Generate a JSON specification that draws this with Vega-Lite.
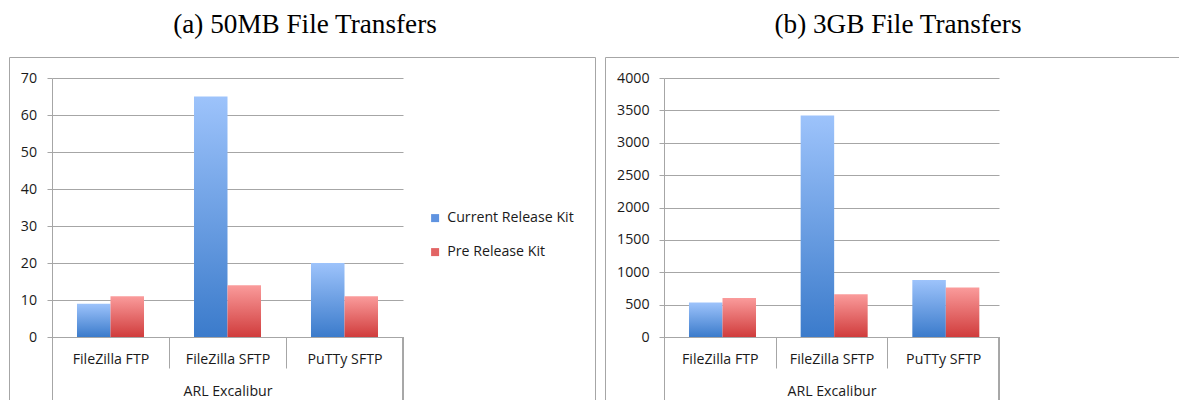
{
  "$schema": "https://vega.github.io/schema/vega-lite/v6.json",
  "padding": {"left": 8, "top": 10, "right": 0, "bottom": 0},
  "spacing": 8,
  "config": {
    "view": {"stroke": "#a6a6a6", "strokeWidth": 1},
    "axis": {"labelFont": "Open Sans", "titleFont": "Open Sans", "labelColor": "#1a1a1a", "titleColor": "#1a1a1a"},
    "legend": {"labelFont": "Open Sans", "labelColor": "#1a1a1a"}
  },
  "data": {"values": [
    {"panel": "a", "tool": "FileZilla FTP", "series": "Current Release Kit", "value": 9},
    {"panel": "a", "tool": "FileZilla FTP", "series": "Pre Release Kit", "value": 11},
    {"panel": "a", "tool": "FileZilla SFTP", "series": "Current Release Kit", "value": 65},
    {"panel": "a", "tool": "FileZilla SFTP", "series": "Pre Release Kit", "value": 14},
    {"panel": "a", "tool": "PuTTy SFTP", "series": "Current Release Kit", "value": 20},
    {"panel": "a", "tool": "PuTTy SFTP", "series": "Pre Release Kit", "value": 11},
    {"panel": "b", "tool": "FileZilla FTP", "series": "Current Release Kit", "value": 531},
    {"panel": "b", "tool": "FileZilla FTP", "series": "Pre Release Kit", "value": 602},
    {"panel": "b", "tool": "FileZilla SFTP", "series": "Current Release Kit", "value": 3419},
    {"panel": "b", "tool": "FileZilla SFTP", "series": "Pre Release Kit", "value": 659},
    {"panel": "b", "tool": "PuTTy SFTP", "series": "Current Release Kit", "value": 880},
    {"panel": "b", "tool": "PuTTy SFTP", "series": "Pre Release Kit", "value": 763}
  ]},
  "hconcat": [
    {
      "title": {"text": "(a) 50MB File Transfers", "font": "Liberation Serif", "fontSize": 27.2, "fontWeight": "normal", "color": "#000000", "anchor": "middle", "frame": "group", "baseline": "alphabetic", "offset": -3, "dx": 3},
      "width": 586,
      "height": 344,
      "transform": [{"filter": "datum.panel === 'a'"}],
      "layer": [
        {
          "mark": {"type": "bar"},
          "encoding": {
            "x": {"field": "tool", "type": "nominal", "sort": ["FileZilla FTP", "FileZilla SFTP", "PuTTy SFTP"],
              "scale": {"range": [43, 394], "paddingInner": 0, "paddingOuter": 0},
              "axis": {"title": "ARL Excalibur", "titleY": 54.5, "titleBaseline": "middle", "titleFontSize": 14.2, "titleFontWeight": "normal",
                "offset": -64, "tickBand": "extent", "tickSize": 31,
                "tickColor": "#a6a6a6", "domainColor": "#a6a6a6", "labelAngle": 0, "labelBaseline": "middle", "labelPadding": -8.5, "labelFontSize": 14.2}},
            "xOffset": {"field": "series", "type": "nominal", "sort": ["Current Release Kit", "Pre Release Kit"], "scale": {"paddingInner": 0, "paddingOuter": 0.746}},
            "y": {"field": "value", "type": "quantitative",
              "scale": {"domain": [-17.297, 70], "range": [344, 21], "nice": false, "zero": true},
              "axis": {"title": null, "offset": -43, "values": [0, 10, 20, 30, 40, 50, 60, 70], "format": "d", "tickSize": 5, "labelPadding": 10.5,
                "tickColor": "#a6a6a6", "domainColor": "#a6a6a6", "gridColor": "#a6a6a6", "grid": true, "labelFontSize": 14.2}},
            "color": {"field": "series", "type": "nominal",
              "scale": {"domain": ["Current Release Kit", "Pre Release Kit"], "range": ["#5f93e0", "#e26464"]},
              "legend": {"orient": "none", "legendX": 419, "legendY": 154, "title": null, "symbolType": "square", "symbolSize": 64, "symbolStrokeWidth": 0, "labelFontSize": 14.2, "rowPadding": 19, "labelOffset": 5, "padding": 0},
              "condition": [
                {"test": "datum.series === 'Current Release Kit'", "value": {"gradient": "linear", "x1": 0, "y1": 0, "x2": 0, "y2": 1, "stops": [{"offset": 0, "color": "#9dc3fb"}, {"offset": 1, "color": "#3b7bcb"}]}},
                {"test": "datum.series === 'Pre Release Kit'", "value": {"gradient": "linear", "x1": 0, "y1": 0, "x2": 0, "y2": 1, "stops": [{"offset": 0, "color": "#fa9b9b"}, {"offset": 1, "color": "#d03c3c"}]}}
              ]}
          }
        },
        {
          "mark": {"type": "rule", "color": "#a6a6a6", "strokeWidth": 1},
          "encoding": {
            "x": {"datum": "PuTTy SFTP", "type": "nominal", "bandPosition": 1},
            "y": {"datum": 0, "type": "quantitative"},
            "y2": {"datum": -17.297}
          }
        }
      ]
    },
    {
      "title": {"text": "(b) 3GB File Transfers", "font": "Liberation Serif", "fontSize": 27.2, "fontWeight": "normal", "color": "#000000", "anchor": "middle", "frame": "group", "baseline": "alphabetic", "offset": -3, "dx": 4.5},
      "width": 577,
      "height": 344,
      "transform": [{"filter": "datum.panel === 'b'"}],
      "layer": [
        {
          "mark": {"type": "bar"},
          "encoding": {
            "x": {"field": "tool", "type": "nominal", "sort": ["FileZilla FTP", "FileZilla SFTP", "PuTTy SFTP"],
              "scale": {"range": [59, 394], "paddingInner": 0, "paddingOuter": 0},
              "axis": {"title": "ARL Excalibur", "titleY": 54.5, "titleBaseline": "middle", "titleFontSize": 14.2, "titleFontWeight": "normal",
                "offset": -64, "tickBand": "extent", "tickSize": 31,
                "tickColor": "#a6a6a6", "domainColor": "#a6a6a6", "labelAngle": 0, "labelBaseline": "middle", "labelPadding": -8.5, "labelFontSize": 14.2}},
            "xOffset": {"field": "series", "type": "nominal", "sort": ["Current Release Kit", "Pre Release Kit"], "scale": {"paddingInner": 0, "paddingOuter": 0.76}},
            "y": {"field": "value", "type": "quantitative",
              "scale": {"domain": [-988.4, 4000], "range": [344, 21], "nice": false, "zero": true},
              "axis": {"title": null, "offset": -59, "values": [0, 500, 1000, 1500, 2000, 2500, 3000, 3500, 4000], "format": "d", "tickSize": 5, "labelPadding": 10,
                "tickColor": "#a6a6a6", "domainColor": "#a6a6a6", "gridColor": "#a6a6a6", "grid": true, "labelFontSize": 14.2}},
            "color": {"field": "series", "type": "nominal",
              "scale": {"domain": ["Current Release Kit", "Pre Release Kit"], "range": ["#5f93e0", "#e26464"]},
              "legend": {"orient": "none", "legendX": 419, "legendY": 155, "title": null, "symbolType": "square", "symbolSize": 64, "symbolStrokeWidth": 0, "labelFontSize": 14.2, "rowPadding": 19.4, "labelOffset": 5, "padding": 0},
              "condition": [
                {"test": "datum.series === 'Current Release Kit'", "value": {"gradient": "linear", "x1": 0, "y1": 0, "x2": 0, "y2": 1, "stops": [{"offset": 0, "color": "#9dc3fb"}, {"offset": 1, "color": "#3b7bcb"}]}},
                {"test": "datum.series === 'Pre Release Kit'", "value": {"gradient": "linear", "x1": 0, "y1": 0, "x2": 0, "y2": 1, "stops": [{"offset": 0, "color": "#fa9b9b"}, {"offset": 1, "color": "#d03c3c"}]}}
              ]}
          }
        },
        {
          "mark": {"type": "rule", "color": "#a6a6a6", "strokeWidth": 1},
          "encoding": {
            "x": {"datum": "PuTTy SFTP", "type": "nominal", "bandPosition": 1},
            "y": {"datum": 0, "type": "quantitative"},
            "y2": {"datum": -988.4}
          }
        }
      ]
    }
  ]
}
